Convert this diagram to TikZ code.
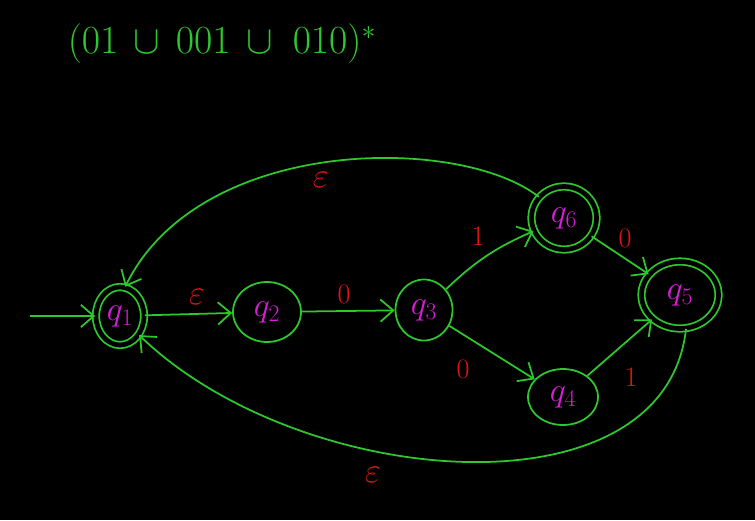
\RequirePackage{fix-cm}
\documentclass[tikz,border=0pt]{standalone}
\usepackage{amsmath}
\usepackage{tikz}
\usetikzlibrary{arrows.meta,shapes.geometric}

\definecolor{ink}{RGB}{45,200,45}
\definecolor{qcol}{RGB}{215,30,215}
\definecolor{lab}{RGB}{225,20,20}

\tikzset{
  st/.style={draw=ink, ellipse, line width=1.5pt, inner sep=0pt, text=qcol, font=\fontsize{29}{32}\selectfont},
  acc/.style={st, double=black, double distance=4pt},
  lbl/.style={text=lab, font=\fontsize{24}{28}\selectfont},
  eps/.style={lbl, font=\fontsize{30}{34}\selectfont},
  tr/.style={->, draw=ink, line width=1.5pt},
}

\begin{document}
\begin{tikzpicture}[x=0.03cm, y=-0.03cm, >={Straight Barb[length=11pt,width=19pt]}]

\fill[black] (0,0) rectangle (755,520);
\useasboundingbox (0,0) rectangle (755,520);

% regular expression
\node[text=ink, font=\fontsize{34}{40}\selectfont] (regex) at (222,44) {$(01\,\cup\,001\,\cup\;010)^{*}$};

% states
\node[acc, minimum width=1.44cm, minimum height=1.74cm] (q1) at (120,316) {$q_1$};
\node[st, minimum width=2.04cm, minimum height=1.8cm] (q2) at (267,312) {$q_2$};
\node[st, minimum width=1.71cm, minimum height=1.83cm] (q3) at (424,310) {$q_3$};
\node[st, minimum width=2.1cm, minimum height=1.68cm] (q4) at (563,397) {$q_4$};
\node[acc, minimum width=2.31cm, minimum height=2.01cm] (q5) at (680,295) {$q_5$};
\node[acc, minimum width=1.95cm, minimum height=1.89cm] (q6) at (564,218) {$q_6$};
\coordinate (start) at (30,316);

% transitions
\draw[tr] (start) -- (q1);
\draw[tr] (q1) -- (q2);
\draw[tr] (q2) -- (q3);
\draw[tr] (q3) to[bend left=10] (q6);
\draw[tr] (q3) -- (q4);
\draw[tr] (q6) -- (q5);
\draw[tr] (q4) -- (q5);
\draw[tr] (q6.140) .. controls (460,135) and (200,135) .. (q1.80);
\draw[tr] (q5.280) .. controls (665,520) and (300,490) .. (q1.-45);

% labels
\node[eps] (e12) at (197,297) {$\varepsilon$};
\node[lbl] (z23) at (344,294) {0};
\node[lbl] (o36) at (478,236) {1};
\node[lbl] (z34) at (463,369) {0};
\node[lbl] (z65) at (625,238) {0};
\node[lbl] (o45) at (631,377) {1};
\node[eps] (e61) at (321,180) {$\varepsilon$};
\node[eps] (e51) at (373,475) {$\varepsilon$};

\end{tikzpicture}
\end{document}
